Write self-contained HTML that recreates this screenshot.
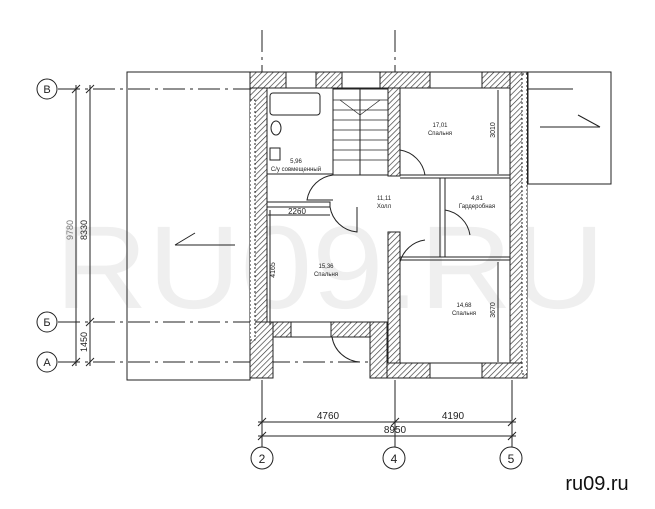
<!DOCTYPE html>
<html><head><meta charset="utf-8"><style>
body{margin:0;background:#fff}
svg{display:block}
text{font-family:"Liberation Sans",sans-serif}
</style></head><body>
<svg width="655" height="509" viewBox="0 0 655 509" xmlns="http://www.w3.org/2000/svg">
<defs>
<pattern id="h" width="4" height="4" patternUnits="userSpaceOnUse" patternTransform="rotate(45)">
<rect width="4" height="4" fill="#fff"/><line x1="0" y1="0" x2="0" y2="4" stroke="#333" stroke-width="1.3"/>
</pattern>
</defs>
<text x="330" y="308" font-size="118" fill="#efefef" text-anchor="middle" textLength="550" lengthAdjust="spacingAndGlyphs">RU09.RU</text>

<g stroke="#222" fill="none" stroke-width="1">
<!-- roofs -->
<rect x="127" y="72" width="123" height="308"/>
<rect x="528" y="72" width="83" height="112"/>
<line x1="528" y1="89" x2="573" y2="89"/>
<line x1="540" y1="127" x2="600" y2="127"/><line x1="578" y1="115" x2="600" y2="127"/>
<line x1="175" y1="245" x2="235" y2="245"/><line x1="175" y1="245" x2="195" y2="233"/>
<!-- axes -->
<g stroke-dasharray="22,5,3,5">
<line x1="58" y1="89" x2="250" y2="89"/>
<line x1="58" y1="322" x2="250" y2="322"/>
<line x1="58" y1="362" x2="385" y2="362"/>
<line x1="262" y1="30" x2="262" y2="72"/>
<line x1="395" y1="30" x2="395" y2="72"/>
</g>
<circle cx="47" cy="89" r="10"/><circle cx="47" cy="322" r="10"/><circle cx="47" cy="362" r="10"/>
<circle cx="262" cy="458" r="11"/><circle cx="394" cy="458" r="11"/><circle cx="511" cy="458" r="11"/>
<!-- left dims -->
<line x1="76" y1="85" x2="76" y2="366"/><line x1="90" y1="85" x2="90" y2="366"/>
<line x1="72" y1="93" x2="80" y2="85"/><line x1="72" y1="366" x2="80" y2="358"/>
<line x1="86" y1="93" x2="94" y2="85"/><line x1="86" y1="326" x2="94" y2="318"/><line x1="86" y1="366" x2="94" y2="358"/>
<!-- bottom dims -->
<line x1="262" y1="380" x2="262" y2="447"/><line x1="395" y1="380" x2="395" y2="447"/><line x1="512" y1="380" x2="512" y2="447"/>
<line x1="258" y1="422" x2="516" y2="422"/><line x1="258" y1="436" x2="516" y2="436"/>
<line x1="258" y1="426" x2="266" y2="418"/><line x1="391" y1="426" x2="399" y2="418"/><line x1="508" y1="426" x2="516" y2="418"/>
<line x1="258" y1="440" x2="266" y2="432"/><line x1="508" y1="440" x2="516" y2="432"/>
</g>

<!-- walls -->
<g fill="url(#h)" stroke="#222" stroke-width="1">
<rect x="250" y="72" width="17" height="306"/>
<rect x="250" y="72" width="277" height="16"/>
<rect x="510" y="72" width="17" height="306"/>
<rect x="387" y="363" width="140" height="15"/>
<rect x="250" y="322" width="150" height="15"/>
<rect x="370" y="322" width="17" height="56"/>
<rect x="250" y="322" width="23" height="56"/>
<rect x="388" y="88" width="12" height="88"/>
<rect x="388" y="232" width="12" height="131"/>
</g>
<!-- windows -->
<g fill="#fff" stroke="#222" stroke-width="1">
<rect x="286" y="72" width="30" height="16"/>
<rect x="342" y="72" width="38" height="16"/>
<rect x="430" y="72" width="52" height="16"/>
<rect x="430" y="363" width="52" height="15"/>
<rect x="291" y="322" width="40" height="15"/>
<rect x="250" y="100" width="5" height="240" stroke-dasharray="2,2"/>
<rect x="522" y="74" width="5" height="300" stroke-dasharray="2,2"/>
</g>
<g stroke="#222" fill="none" stroke-width="1">
<!-- partitions -->
<line x1="267" y1="174" x2="333" y2="174"/>
<rect x="267" y="202" width="63" height="5"/>
<rect x="333" y="89" width="55" height="86"/>
<line x1="360" y1="89" x2="360" y2="175"/>
<g stroke-width="0.7">
<line x1="333" y1="100" x2="388" y2="100"/><line x1="333" y1="110" x2="388" y2="110"/><line x1="333" y1="120" x2="388" y2="120"/><line x1="333" y1="130" x2="388" y2="130"/><line x1="333" y1="140" x2="388" y2="140"/><line x1="333" y1="150" x2="388" y2="150"/><line x1="333" y1="160" x2="388" y2="160"/>
<line x1="340" y1="100" x2="360" y2="115"/><line x1="380" y1="100" x2="360" y2="115"/>
</g>
<line x1="400" y1="175" x2="510" y2="175"/><line x1="400" y1="178" x2="510" y2="178"/>
<line x1="400" y1="257" x2="510" y2="257"/><line x1="400" y1="260" x2="510" y2="260"/>
<rect x="440" y="178" width="5" height="79"/>
<!-- doors -->
<path d="M333 175 A30 30 0 0 0 307 200 L333 200"/>
<path d="M330 207 A30 30 0 0 0 357 232 L357 207"/>
<path d="M400 150 A30 30 0 0 1 425 175"/>
<path d="M400 262 A30 30 0 0 1 425 240"/>
<path d="M445 210 A30 30 0 0 1 470 235"/>
<path d="M332 337 A30 30 0 0 0 360 362"/>
<!-- bath -->
<rect x="270" y="93" width="50" height="22" rx="3"/>
<ellipse cx="276" cy="128" rx="5" ry="7"/>
<rect x="270" y="148" width="10" height="12"/>
<!-- inner dims -->
<line x1="268" y1="215" x2="330" y2="215"/>
<line x1="270" y1="210" x2="270" y2="325"/>
<line x1="498" y1="90" x2="498" y2="174"/>
<line x1="498" y1="262" x2="498" y2="362"/>
</g>
<g font-size="6" fill="#222" text-anchor="middle">
<text x="440" y="127">17,01</text><text x="440" y="135">Спальня</text>
<text x="477" y="200">4,81</text><text x="477" y="208">Гардеробная</text>
<text x="384" y="200">11,11</text><text x="384" y="208">Холл</text>
<text x="326" y="268">15,36</text><text x="326" y="276">Спальня</text>
<text x="464" y="307">14,68</text><text x="464" y="315">Спальня</text>
<text x="296" y="163">5,96</text><text x="296" y="171">С/у совмещенный</text>
<text x="297" y="214" font-size="8">2260</text>
<text transform="translate(275,270) rotate(-90)" font-size="7">4165</text>
<text transform="translate(495,130) rotate(-90)" font-size="7">3010</text>
<text transform="translate(495,310) rotate(-90)" font-size="7">3670</text>
</g>
<g font-size="10" fill="#222" text-anchor="middle">
<text x="328" y="419">4760</text><text x="453" y="419">4190</text><text x="395" y="433">8950</text>
<text x="47" y="93" font-size="11">В</text><text x="47" y="326" font-size="11">Б</text><text x="47" y="366" font-size="11">А</text>
<text x="262" y="463" font-size="12">2</text><text x="394" y="463" font-size="12">4</text><text x="511" y="463" font-size="12">5</text>
<text transform="translate(73,230) rotate(-90)" font-size="9" fill="#777">9780</text>
<text transform="translate(87,230) rotate(-90)" font-size="9">8330</text>
<text transform="translate(87,342) rotate(-90)" font-size="9">1450</text>
</g>
<text x="597" y="490" font-size="20" fill="#111" text-anchor="middle">ru09.ru</text>
</svg>
</body></html>
